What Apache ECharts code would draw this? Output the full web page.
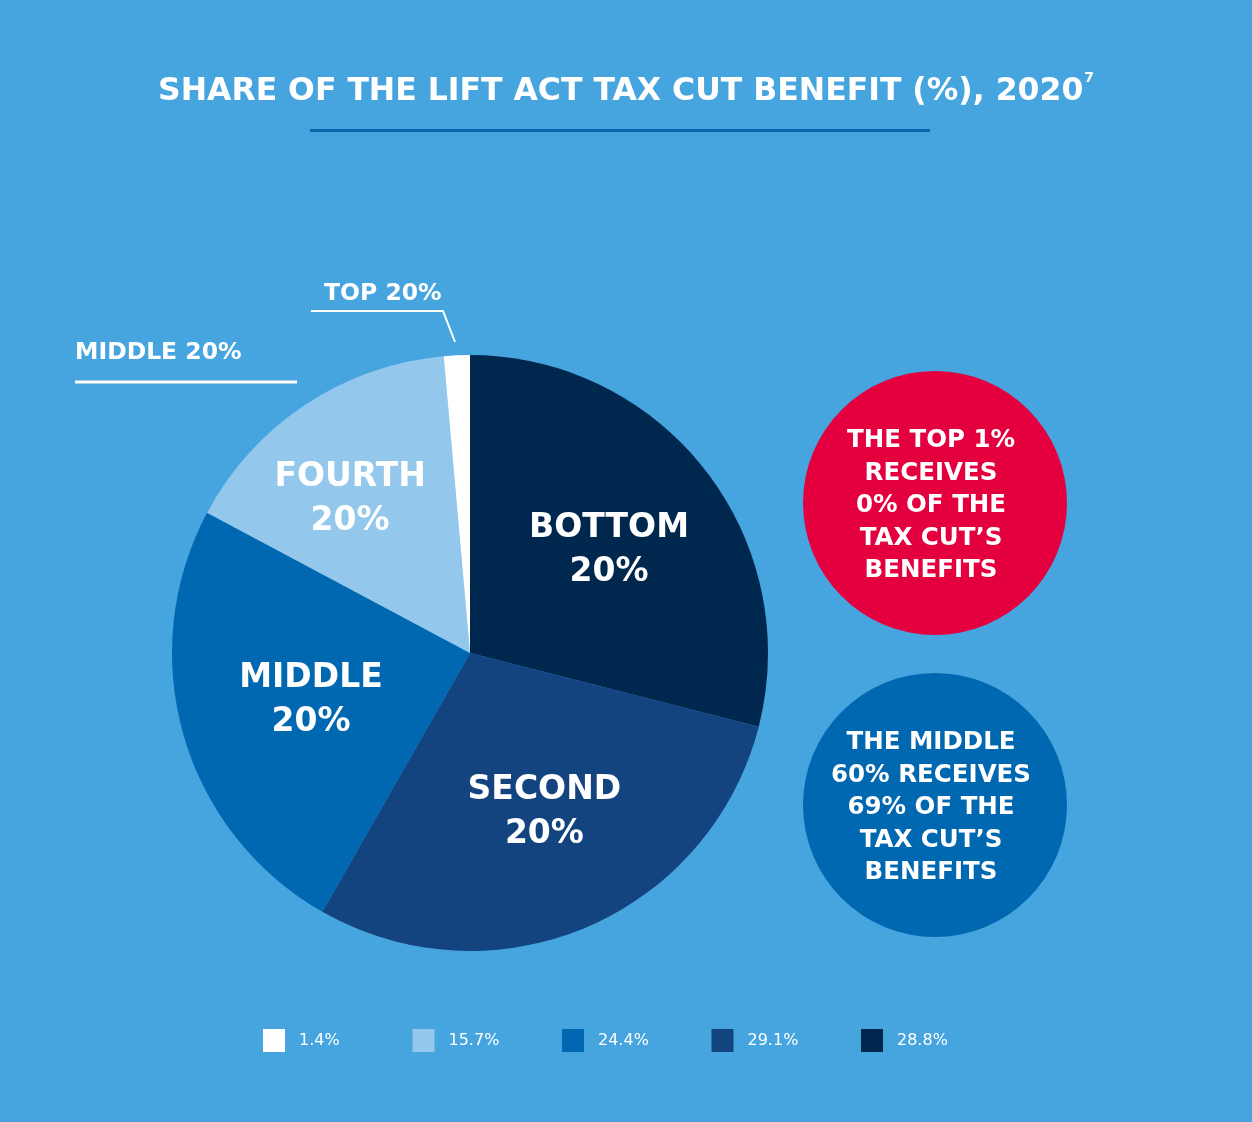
<!DOCTYPE html>
<html>
<head>
<meta charset="utf-8">
<title>Share of the LIFT Act tax cut benefit (%), 2020</title>
<script src="https://cdn.jsdelivr.net/npm/echarts@6/dist/echarts.min.js"></script>
<style>
  html, body { margin: 0; padding: 0; background: #46a4df; }
  #chart { width: 1252px; height: 1122px; }
</style>
</head>
<body>
<div id="chart"></div>
<script>
// Income quintiles, clockwise from 12 o'clock
const sliceNames = ['BOTTOM 20%', 'SECOND 20%', 'MIDDLE 20%', 'FOURTH 20%', 'TOP 20%'];
const sliceLabels = ['BOTTOM\n20%', 'SECOND\n20%', 'MIDDLE\n20%', 'FOURTH\n20%', ''];
const shareValues = [28.8, 29.1, 24.4, 15.7, 1.4];
const sliceColors = ['#00284f', '#13447f', '#0068b0', '#93c7ec', '#ffffff'];
// Legend runs in the opposite order
const legendOrder = ['TOP 20%', 'FOURTH 20%', 'MIDDLE 20%', 'SECOND 20%', 'BOTTOM 20%'];

const titleText = 'SHARE OF THE LIFT ACT TAX CUT BENEFIT (%), 2020';
const titleNote = '7';
const topCallout = ['THE TOP 1%', 'RECEIVES', '0% OF THE', 'TAX CUT\u2019S', 'BENEFITS'];
const middleCallout = ['THE MIDDLE', '60% RECEIVES', '69% OF THE', 'TAX CUT\u2019S', 'BENEFITS'];

const FONT = '"DejaVu Sans", sans-serif';

// nudges for the in-slice labels
const labelNudge = [[19, -9], [15, 20], [-13, 5], [-36, -27], [0, 0]];

const pieData = sliceNames.map((name, i) => ({
  name: name,
  value: shareValues[i],
  itemStyle: { color: sliceColors[i] },
  label: {
    show: sliceLabels[i] !== '',
    formatter: sliceLabels[i],
    offset: labelNudge[i]
  }
}));

// one legend block per item so each sits on a fixed 150px step
const legends = legendOrder.map((name, i) => ({
  left: 263 + i * 149.5,
  top: 1029,
  padding: 0,
  icon: 'rect',
  itemWidth: 22,
  itemHeight: 23,
  itemGap: 0,
  selectedMode: false,
  data: [name],
  formatter: function (n) {
    return shareValues[sliceNames.indexOf(n)].toFixed(1) + '%';
  },
  textStyle: { fontFamily: FONT, fontSize: 16, color: '#ffffff', padding: [2, 0, 0, 9] }
}));

const chart = echarts.init(document.getElementById('chart'), null, { renderer: 'canvas' });

chart.setOption({
  backgroundColor: '#46a4df',
  animation: false,
  title: {
    text: '{t|' + titleText + '}{s|' + titleNote + '}',
    left: 'center',
    top: 66,
    textStyle: {
      rich: {
        t: { fontFamily: FONT, fontWeight: 'bold', fontSize: 31.5, color: '#ffffff', lineHeight: 42 },
        s: { fontFamily: FONT, fontWeight: 'bold', fontSize: 14, color: '#ffffff', verticalAlign: 'top', lineHeight: 42, padding: [0, 0, 16, 1] }
      }
    }
  },
  legend: legends,
  series: [{
    type: 'pie',
    center: [470, 653],
    radius: [0, 298],
    startAngle: 90,
    clockwise: true,
    silent: true,
    data: pieData,
    label: {
      position: 'inside',
      color: '#ffffff',
      fontFamily: FONT,
      fontWeight: 'bold',
      fontSize: 33,
      lineHeight: 44,
      align: 'center'
    },
    labelLine: { show: false },
    itemStyle: { borderWidth: 0 }
  }],
  graphic: [
    // title rule
    { type: 'rect', shape: { x: 310, y: 129, width: 620, height: 3 }, style: { fill: '#0a66ad' } },
    // TOP 20% callout
    { type: 'text', x: 324, y: 294, style: { text: 'TOP 20%', fill: '#ffffff', font: 'bold 23.5px ' + FONT, textVerticalAlign: 'middle' } },
    { type: 'polyline', shape: { points: [[311, 311], [443, 311], [455, 342]] }, style: { stroke: '#ffffff', lineWidth: 2, fill: null } },
    // MIDDLE 20% callout
    { type: 'text', x: 75, y: 353, style: { text: 'MIDDLE 20%', fill: '#ffffff', font: 'bold 23.5px ' + FONT, textVerticalAlign: 'middle' } },
    { type: 'line', shape: { x1: 75, y1: 382, x2: 297, y2: 382 }, style: { stroke: '#ffffff', lineWidth: 3 } },
    // red highlight bubble
    { type: 'circle', shape: { cx: 935, cy: 503, r: 132 }, style: { fill: '#e4003f' } },
    { type: 'text', x: 931, y: 506, style: { text: topCallout.join('\n'), fill: '#ffffff', font: 'bold 24.5px ' + FONT, lineHeight: 32.5, align: 'center', verticalAlign: 'middle' } },
    // blue highlight bubble
    { type: 'circle', shape: { cx: 935, cy: 805, r: 132 }, style: { fill: '#0068b0' } },
    { type: 'text', x: 931, y: 808, style: { text: middleCallout.join('\n'), fill: '#ffffff', font: 'bold 24.5px ' + FONT, lineHeight: 32.5, align: 'center', verticalAlign: 'middle' } }
  ]
});
</script>
</body>
</html>
